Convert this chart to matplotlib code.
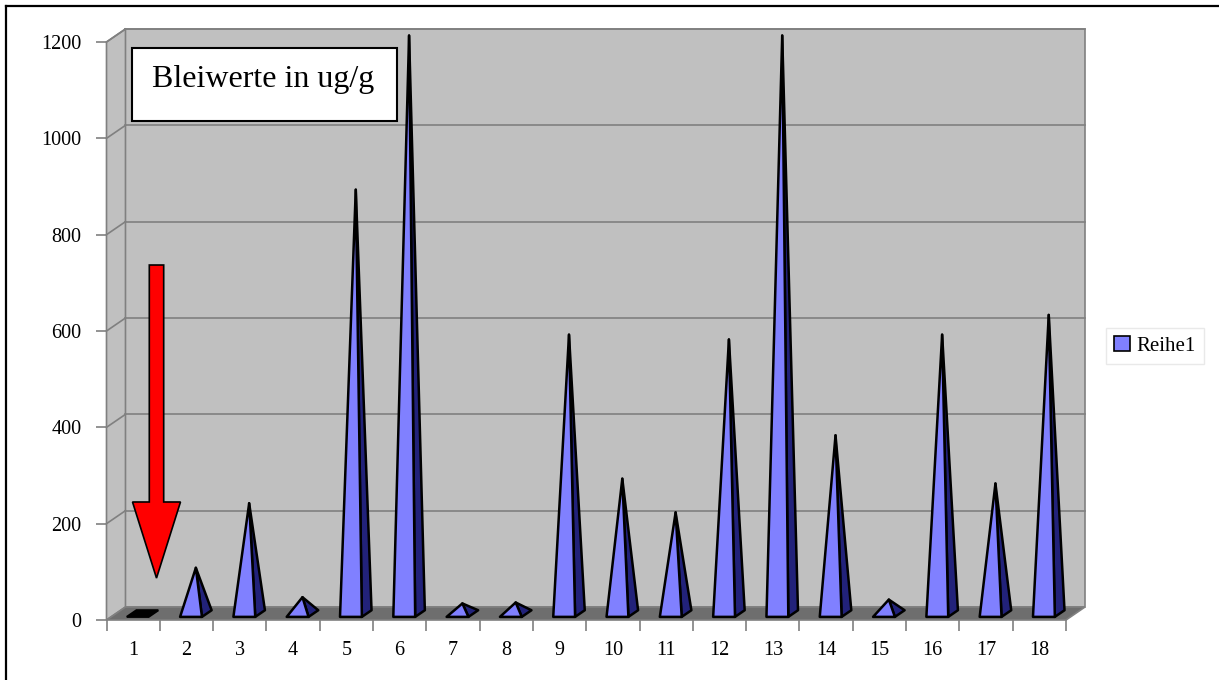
import matplotlib
matplotlib.use('Agg')
import matplotlib.pyplot as plt
from matplotlib.patches import Polygon, Rectangle, Patch
from matplotlib.lines import Line2D

# data
categories = [str(i) for i in range(1, 19)]
values = [0, 95, 229, 34, 880, 1200, 21, 23, 579, 280, 210, 569, 1200, 370, 29, 579, 270, 620]
y_ticks = [0, 200, 400, 600, 800, 1000, 1200]
title_text = 'Bleiwerte in ug/g'
series_name = 'Reihe1'

plt.rcParams['font.family'] = ['Liberation Serif', 'DejaVu Serif']

# 3d look: depth offset of the back wall in data units
DX = 0.356
DY = 27
Z0, Z1 = 0.24, 0.75
HALF_W = 0.205

FRONT = '#8080ff'
SIDE = '#22227a'
WALL = '#c0c0c0'
FLOOR = '#6e6e6e'
GRID = '#808080'


def proj(x, y, z):
    return (x + DX * z, y + DY * z)


fig = plt.figure(figsize=(12.19, 6.8), dpi=100)
ax = fig.add_axes([106.5 / 1219, 1 - 620 / 680, (1066 - 106.5) / 1219, (620 - 42) / 680])
n = len(categories)
top = y_ticks[-1]
ax.set_xlim(0, n)
ax.set_ylim(0, top)
for s in ax.spines.values():
    s.set_visible(False)

# walls and floor
ax.add_patch(Polygon([proj(0, 0, 1), proj(n, 0, 1), proj(n, top, 1), proj(0, top, 1)],
                     closed=True, fc=WALL, ec=GRID, lw=1.2, clip_on=False, zorder=1))
ax.add_patch(Polygon([(0, 0), proj(0, 0, 1), proj(0, top, 1), (0, top)],
                     closed=True, fc=WALL, ec=GRID, lw=1.2, clip_on=False, zorder=1))
ax.add_patch(Polygon([(0, 0), (n, 0), proj(n, 0, 1), proj(0, 0, 1)],
                     closed=True, fc=FLOOR, ec=GRID, lw=1.2, clip_on=False, zorder=2))

# grid lines on back and side wall
for v in y_ticks[1:]:
    bx0, by = proj(0, v, 1)
    bx1, _ = proj(n, v, 1)
    ax.plot([bx0, bx1], [by, by], color=GRID, lw=1.2, clip_on=False, zorder=1.5)
    ax.plot([0, bx0], [v, by], color=GRID, lw=1.2, clip_on=False, zorder=1.5)

# pyramids
zc = (Z0 + Z1) / 2
for i, v in enumerate(values):
    c = i + 0.5
    fl = proj(c - HALF_W, 0, Z0)
    fr = proj(c + HALF_W, 0, Z0)
    br = proj(c + HALF_W, 0, Z1)
    bl = proj(c - HALF_W, 0, Z1)
    if v <= 0:
        ax.add_patch(Polygon([fl, fr, br, bl], closed=True, fc='black', ec='black',
                             lw=1.5, clip_on=False, zorder=3))
        continue
    tip = proj(c, v, zc)
    ax.add_patch(Polygon([fr, br, tip], closed=True, fc=SIDE, ec='black', lw=1.8,
                         joinstyle='round', clip_on=False, zorder=3))
    ax.add_patch(Polygon([fl, fr, tip], closed=True, fc=FRONT, ec='black', lw=1.8,
                         joinstyle='round', clip_on=False, zorder=3.1))

# red arrow pointing at sample 1
ax.arrow(0.938, 737, 0, -650, width=0.27, head_width=0.9, head_length=158,
         length_includes_head=True, fc='#ff0000', ec='black', lw=1.2,
         clip_on=False, zorder=5)

# ticks
ax.set_yticks(y_ticks)
ax.set_yticklabels([str(t) for t in y_ticks], fontsize=14.5)
ax.tick_params(axis='y', length=8, width=1.2, color=GRID, pad=10)
ax.set_xticks([i + 0.5 for i in range(n)])
ax.set_xticklabels(categories, fontsize=14.5)
ax.set_xticks(range(n + 1), minor=True)
ax.tick_params(axis='x', which='major', length=0, pad=15)
ax.tick_params(axis='x', which='minor', length=8, width=1.2, color=GRID)

# title box
fig.add_artist(Rectangle((131.7 / 1219, 1 - 120.7 / 680), (396.7 - 131.7) / 1219, 72.4 / 680,
                         transform=fig.transFigure, fc='white', ec='black', lw=1.5, zorder=6))
fig.text(263.5 / 1219, 1 - 80 / 680, title_text, fontsize=23, ha='center', va='center', zorder=7)

# legend
leg = fig.legend(handles=[Patch(fc=FRONT, ec='black', lw=1.2)], labels=[series_name],
                 loc='center left', bbox_to_anchor=(1106 / 1219, 1 - 346 / 680),
                 fontsize=15, frameon=True, fancybox=False, handlelength=0.75,
                 handleheight=0.75, handletextpad=0.3, borderpad=0.4, borderaxespad=0)
leg.get_frame().set_edgecolor('#e4e4e4')
leg.get_frame().set_linewidth(1.0)

# outer chart border (top and left visible)
fig.add_artist(Line2D([6 / 1219, 1], [1 - 6 / 680, 1 - 6 / 680], transform=fig.transFigure,
                      color='black', lw=1.6))
fig.add_artist(Line2D([6 / 1219, 6 / 1219], [0, 1 - 6 / 680], transform=fig.transFigure,
                      color='black', lw=1.6))

fig.savefig('out.png', dpi=100)
